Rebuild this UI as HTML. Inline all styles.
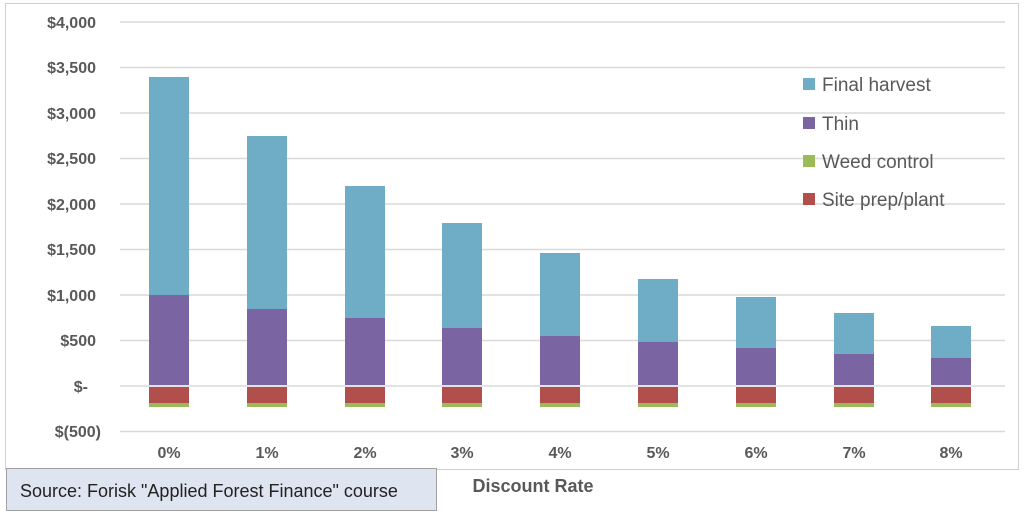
<!DOCTYPE html>
<html><head><meta charset="utf-8"><style>
html,body{margin:0;padding:0;background:#fff;}
svg{display:block;font-family:"Liberation Sans",sans-serif;}
</style></head><body>
<svg width="1024" height="518" viewBox="0 0 1024 518">
<rect x="5.5" y="3.5" width="1013" height="466" fill="#fff" stroke="#d0d0d0"/>
<g stroke="#d9d9d9" stroke-width="1.5">
<line x1="120" x2="1005" y1="22" y2="22"/><line x1="120" x2="1005" y1="67.5" y2="67.5"/>
<line x1="120" x2="1005" y1="113" y2="113"/><line x1="120" x2="1005" y1="158.5" y2="158.5"/>
<line x1="120" x2="1005" y1="204" y2="204"/><line x1="120" x2="1005" y1="249.5" y2="249.5"/>
<line x1="120" x2="1005" y1="295" y2="295"/><line x1="120" x2="1005" y1="340.5" y2="340.5"/>
<line x1="120" x2="1005" y1="386" y2="386"/><line x1="120" x2="1005" y1="431.5" y2="431.5"/>
</g>
<g font-size="16" font-weight="bold" fill="#595959" text-anchor="end">
<text x="96" y="28">$4,000</text><text x="96" y="73">$3,500</text><text x="96" y="119">$3,000</text>
<text x="96" y="164">$2,500</text><text x="96" y="210">$2,000</text><text x="96" y="255">$1,500</text>
<text x="96" y="301">$1,000</text><text x="96" y="346">$500</text><text x="88" y="392">$-</text>
<text x="101" y="437">$(500)</text>
</g>
<g id="bars">
<!-- x, finalTop, thinTop -->
</g>
<g>
<rect x="149" y="77" width="40" height="218" fill="#6fadc6"/><rect x="149" y="295" width="40" height="90" fill="#7b64a2"/>
<rect x="247" y="136" width="40" height="173" fill="#6fadc6"/><rect x="247" y="309" width="40" height="76" fill="#7b64a2"/>
<rect x="345" y="186" width="40" height="132" fill="#6fadc6"/><rect x="345" y="318" width="40" height="67" fill="#7b64a2"/>
<rect x="442" y="223" width="40" height="105" fill="#6fadc6"/><rect x="442" y="328" width="40" height="57" fill="#7b64a2"/>
<rect x="540" y="253" width="40" height="83" fill="#6fadc6"/><rect x="540" y="336" width="40" height="49" fill="#7b64a2"/>
<rect x="638" y="279" width="40" height="63" fill="#6fadc6"/><rect x="638" y="342" width="40" height="43" fill="#7b64a2"/>
<rect x="736" y="297" width="40" height="51" fill="#6fadc6"/><rect x="736" y="348" width="40" height="37" fill="#7b64a2"/>
<rect x="834" y="313" width="40" height="41" fill="#6fadc6"/><rect x="834" y="354" width="40" height="31" fill="#7b64a2"/>
<rect x="931" y="326" width="40" height="32" fill="#6fadc6"/><rect x="931" y="358" width="40" height="27" fill="#7b64a2"/>
</g>
<g fill="#b04f4c">
<rect x="149" y="387" width="40" height="16"/><rect x="247" y="387" width="40" height="16"/><rect x="345" y="387" width="40" height="16"/>
<rect x="442" y="387" width="40" height="16"/><rect x="540" y="387" width="40" height="16"/><rect x="638" y="387" width="40" height="16"/>
<rect x="736" y="387" width="40" height="16"/><rect x="834" y="387" width="40" height="16"/><rect x="931" y="387" width="40" height="16"/>
</g>
<g fill="#9bbb59">
<rect x="149" y="403" width="40" height="4"/><rect x="247" y="403" width="40" height="4"/><rect x="345" y="403" width="40" height="4"/>
<rect x="442" y="403" width="40" height="4"/><rect x="540" y="403" width="40" height="4"/><rect x="638" y="403" width="40" height="4"/>
<rect x="736" y="403" width="40" height="4"/><rect x="834" y="403" width="40" height="4"/><rect x="931" y="403" width="40" height="4"/>
</g>
<g font-size="16" font-weight="bold" fill="#595959" text-anchor="middle">
<text x="169" y="458">0%</text><text x="267" y="458">1%</text><text x="365" y="458">2%</text>
<text x="462" y="458">3%</text><text x="560" y="458">4%</text><text x="658" y="458">5%</text>
<text x="756" y="458">6%</text><text x="854" y="458">7%</text><text x="951" y="458">8%</text>
</g>
<rect x="800" y="72" width="140" height="140" fill="#fff" opacity="0"/>
<g font-size="19" fill="#595959">
<rect x="803" y="78" width="12" height="12" fill="#6fadc6"/><text x="822" y="91">Final harvest</text>
<rect x="803" y="117" width="12" height="12" fill="#7b64a2"/><text x="822" y="130">Thin</text>
<rect x="803" y="155" width="12" height="12" fill="#9bbb59"/><text x="822" y="168">Weed control</text>
<rect x="803" y="193" width="12" height="12" fill="#b04f4c"/><text x="822" y="206">Site prep/plant</text>
</g>
<text x="533" y="492" font-size="18" font-weight="bold" fill="#595959" text-anchor="middle">Discount Rate</text>
<rect x="6.5" y="468.5" width="430" height="42" fill="#dee4f0" stroke="#a0a0a0"/>
<text x="20" y="497" font-size="18" fill="#222">Source: Forisk "Applied Forest Finance" course</text>
</svg>
</body></html>
